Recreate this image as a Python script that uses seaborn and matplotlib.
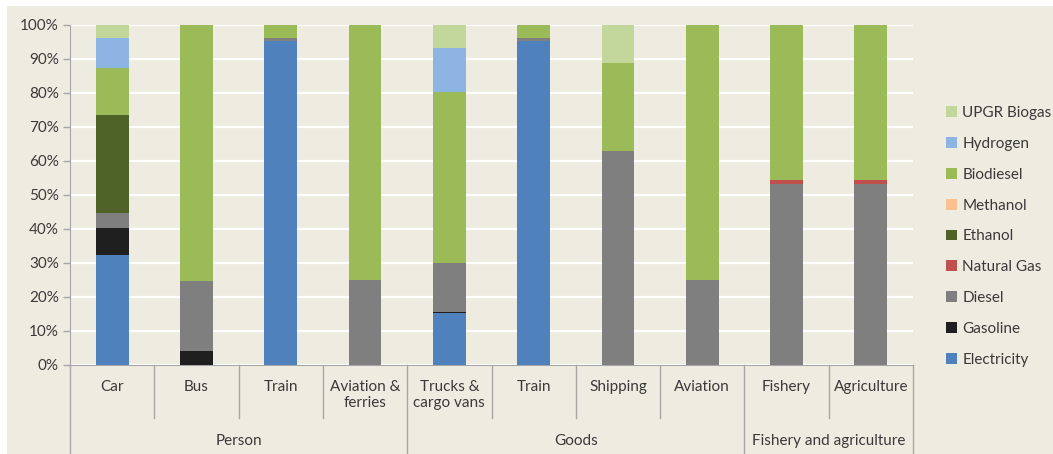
import pandas as pd
import seaborn as sns
import matplotlib.pyplot as plt
from matplotlib.patches import Patch, Rectangle

# Categories (x axis) and groups
categories = ["Car", "Bus", "Train", "Aviation &\nferries", "Trucks &\ncargo vans",
              "Train", "Shipping", "Aviation", "Fishery", "Agriculture"]
groups = ["Person", "Goods", "Fishery and agriculture"]
group_first = [0, 4, 8]
group_last = [3, 7, 9]

# Fuel shares in % (bottom to top of stack)
fuels = ["Electricity", "Gasoline", "Diesel", "Natural Gas", "Ethanol",
         "Methanol", "Biodiesel", "Hydrogen", "UPGR Biogas"]
fuel_colors = ["#4F81BD", "#1F1F1F", "#7F7F7F", "#C0504D", "#4F6228",
               "#FAC090", "#9BBB59", "#8DB4E2", "#C3D69B"]

electricity = [32.4, 0, 95.3, 0, 15.2, 95.3, 0, 0, 0, 0]
gasoline = [7.8, 4.1, 0, 0, 0.4, 0, 0, 0, 0, 0]
diesel = [4.6, 20.7, 1.0, 25.0, 14.5, 1.0, 62.9, 25.0, 53.1, 53.1]
natural_gas = [0, 0, 0, 0, 0, 0, 0, 0, 1.3, 1.3]
ethanol = [28.7, 0, 0, 0, 0, 0, 0, 0, 0, 0]
methanol = [0, 0, 0, 0, 0, 0, 0, 0, 0, 0]
biodiesel = [13.9, 75.2, 3.7, 75.0, 50.3, 3.7, 25.8, 75.0, 45.6, 45.6]
hydrogen = [8.9, 0, 0, 0, 12.7, 0, 0, 0, 0, 0]
upgr_biogas = [3.7, 0, 0, 0, 6.9, 0, 11.3, 0, 0, 0]

df = pd.DataFrame({
    "Electricity": electricity, "Gasoline": gasoline, "Diesel": diesel,
    "Natural Gas": natural_gas, "Ethanol": ethanol, "Methanol": methanol,
    "Biodiesel": biodiesel, "Hydrogen": hydrogen, "UPGR Biogas": upgr_biogas,
})
df["pos"] = range(len(categories))
cum = df[fuels].cumsum(axis=1)

bg = "#EEECE1"
txt = "#3A3A3A"
axis_col = "#A6A6A6"

plt.rcParams["font.family"] = ["Lato", "DejaVu Sans"]
plt.rcParams["font.size"] = 11

fig = plt.figure(figsize=(10.53, 4.54), dpi=100)
fig.patch.set_facecolor("white")
fig.patches.append(Rectangle((7 / 1053, 0), 1, 1 - 6 / 454, transform=fig.transFigure,
                             facecolor=bg, edgecolor="none", zorder=-10))
ax = fig.add_axes([70 / 1053, 1 - 365 / 454, 843 / 1053, 340 / 454])
ax.set_facecolor(bg)

# stacked bars: draw cumulative totals, tallest first
for fuel, col in reversed(list(zip(fuels, fuel_colors))):
    sns.barplot(x=df["pos"], y=cum[fuel], color=col, saturation=1, width=0.39,
                errorbar=None, ax=ax, linewidth=0, zorder=3)

ax.set_xlim(-0.5, len(categories) - 0.5)
ax.set_ylim(0, 100)
ax.set_yticks(range(0, 101, 10))
ax.set_yticklabels([f"{v}%" for v in range(0, 101, 10)], color=txt)
ax.yaxis.grid(True, color="white", linewidth=1.6)
ax.set_axisbelow(True)
ax.tick_params(axis="y", length=5, color=axis_col, width=1, pad=3)
ax.set_xticks(range(len(categories)))
ax.set_xticklabels(categories, color=txt, linespacing=1.2)
ax.tick_params(axis="x", length=0, pad=11)
ax.set_xlabel("")
ax.set_ylabel("")
for s in ["top", "right"]:
    ax.spines[s].set_visible(False)
ax.spines["left"].set_color(axis_col)
ax.spines["bottom"].set_color(axis_col)

# category separators below the axis
tr = ax.get_xaxis_transform()
for i in range(len(categories) + 1):
    x = i - 0.5
    if i in group_first or i == len(categories):
        ax.plot([x, x], [0, -0.27], transform=tr, color=axis_col, lw=1, clip_on=False)
    else:
        ax.plot([x, x], [0, -0.156], transform=tr, color=axis_col, lw=1, clip_on=False)

for g, a, b in zip(groups, group_first, group_last):
    ax.text((a + b) / 2, -0.224, g, transform=tr, ha="center", va="center", color=txt)

handles = [Patch(facecolor=c, edgecolor="none", label=f) for f, c in zip(fuels, fuel_colors)][::-1]
fig.legend(handles=handles, loc="upper left", bbox_to_anchor=(940 / 1053, 1 - 100 / 454),
           frameon=False, handlelength=0.7, handleheight=0.7, handletextpad=0.35,
           labelspacing=1.1, labelcolor=txt, borderaxespad=0)

fig.savefig("out.png", dpi=100, facecolor=fig.get_facecolor())
